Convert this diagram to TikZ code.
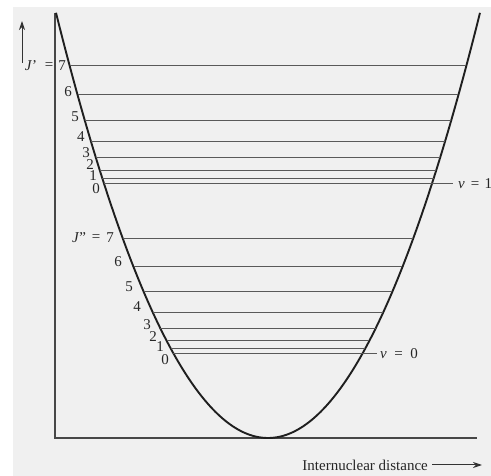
\documentclass[tikz,border=0pt]{standalone}
\usepackage{fontspec}
\setmainfont{Liberation Serif}
\usetikzlibrary{arrows.meta}
\begin{document}
\begin{tikzpicture}[x=1pt,y=-1pt,
  curve/.style={line width=1.9pt, black!88},
  axis/.style={line width=1.1pt, black!72},
  level/.style={line width=0.9pt, black!65},
  lbl/.style={font=\fontsize{15}{16}\selectfont, text=black!85, inner sep=0pt},
  arr/.style={line width=1pt, black!80, -{Stealth[length=9pt,width=6pt]}},
]
\useasboundingbox (0,0) rectangle (491,476);
\fill[white] (0,0) rectangle (491,476);
\fill[black!6] (13,7) rectangle (491,476);
% axes
\coordinate (top) at (55,13);
\coordinate (origin) at (55,438);
\coordinate (xend) at (477,438);
\draw[axis] (top) -- (origin) -- (xend);
% energy arrow
\coordinate (ea) at (22,63);
\coordinate (eb) at (22,21);
\draw[arr] (ea) -- (eb);
% potential curve
\draw[curve] plot[domain=56:480, samples=150] (\x, {438-0.00946*(\x-268)*(\x-268)});
% upper rotational levels (v=1)
\foreach \J in {1,...,7} {
  \pgfmathsetmacro\yy{183-2.1*\J*(\J+1)}
  \pgfmathsetmacro\dx{10.282*sqrt(438-\yy)}
  \draw[level] ({268-\dx},\yy) -- ({268+\dx},\yy);
}
\pgfmathsetmacro\dxa{10.282*sqrt(438-183)}
\coordinate (v1a) at ({268-\dxa},183);
\coordinate (v1b) at (453,183);
\draw[level] (v1a) -- (v1b);
% lower rotational levels (v=0)
\foreach \J in {1,...,7} {
  \pgfmathsetmacro\yy{353-2.05*\J*(\J+1)}
  \pgfmathsetmacro\dx{10.282*sqrt(438-\yy)}
  \draw[level] ({268-\dx},\yy) -- ({268+\dx},\yy);
}
\pgfmathsetmacro\dxb{10.282*sqrt(438-353)}
\coordinate (v0a) at ({268-\dxb},353);
\coordinate (v0b) at (377,353);
\draw[level] (v0a) -- (v0b);
% labels upper
\node[lbl] (Jup) at (31,66) {\textit{J}’};
\node[lbl] (equp) at (49,66) {=};
\node[lbl] (u7) at (62,66) {7};
\node[lbl] (u6) at (68,92) {6};
\node[lbl] (u5) at (75,117) {5};
\node[lbl] (u4) at (81,137) {4};
\node[lbl] (u3) at (86,153) {3};
\node[lbl] (u2) at (90,165) {2};
\node[lbl] (u1) at (93,176) {1};
\node[lbl] (u0) at (96,188.5) {0};
% labels lower
\node[lbl] (Jlo) at (79,238) {\textit{J}”};
\node[lbl] (eqlo) at (96,238) {=};
\node[lbl] (l7) at (110,238) {7};
\node[lbl] (l6) at (118,262) {6};
\node[lbl] (l5) at (129,287) {5};
\node[lbl] (l4) at (137,307) {4};
\node[lbl] (l3) at (147,325) {3};
\node[lbl] (l2) at (153,337) {2};
\node[lbl] (l1) at (160,347) {1};
\node[lbl] (l0) at (165,360) {0};
% vibrational labels
\node[lbl, anchor=west] (vzero) at (380,354) {\textit{v}\hspace{0.5em}=\hspace{0.5em}0};
\node[lbl, anchor=west] (vone) at (458,184) {\textit{v}\hspace{0.4em}=\hspace{0.35em}1};
% x axis label
\node[lbl, anchor=east] (xlab) at (428,465) {Internuclear distance};
\coordinate (xa) at (432,465);
\coordinate (xb) at (482,465);
\draw[arr] (xa) -- (xb);
\end{tikzpicture}
\end{document}
